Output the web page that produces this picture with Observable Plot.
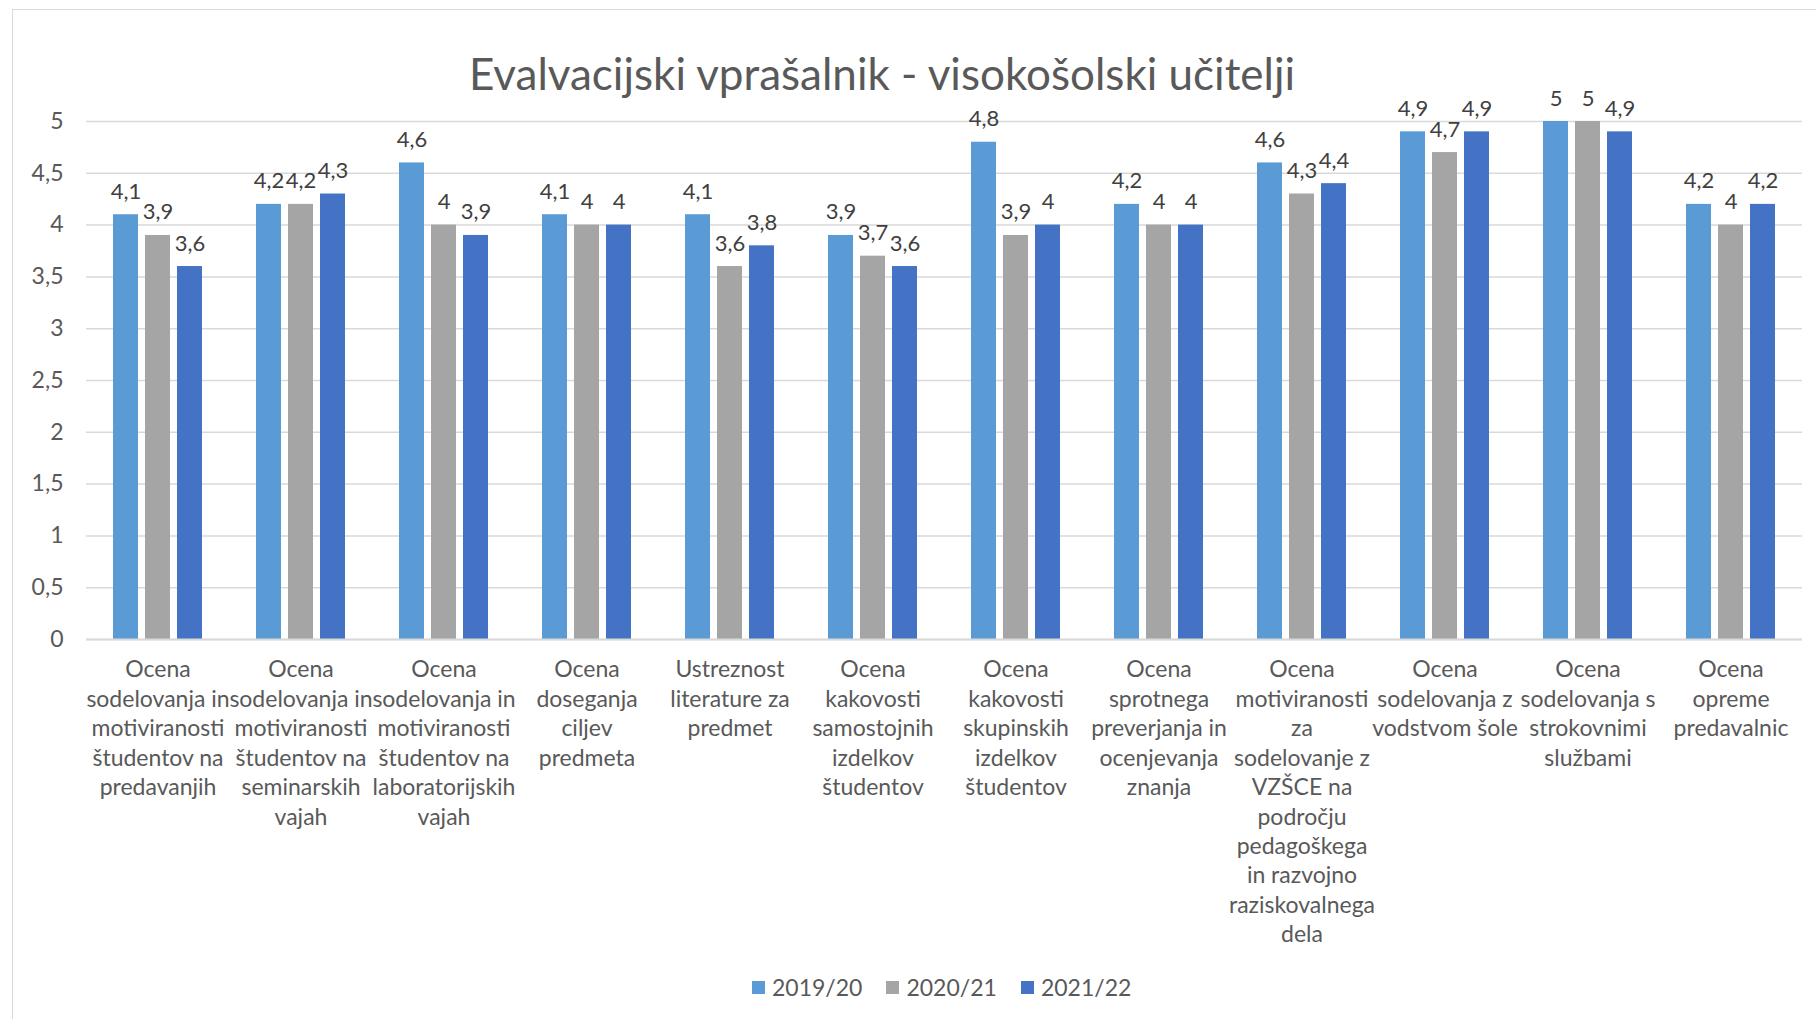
<!DOCTYPE html>
<html><head><meta charset="utf-8">
<script src="https://cdn.jsdelivr.net/npm/d3@7"></script>
<script src="https://cdn.jsdelivr.net/npm/@observablehq/plot@0.6"></script>
<style>
body{margin:0;background:#fff;}
#wrap{position:relative;width:1816px;height:1019px;overflow:hidden;font-family:Lato,'Open Sans',sans-serif;color:#595959;}
#frame{position:absolute;left:12px;top:9px;width:1900px;height:1100px;border:1.5px solid #d9d9d9;box-sizing:border-box;}
#chart{position:absolute;left:0;top:0;}
#title{position:absolute;top:51px;left:0;width:1764px;text-align:center;font-size:44px;line-height:1;white-space:nowrap;}
#legend{position:absolute;top:972px;left:752px;display:flex;align-items:center;font-size:23px;line-height:30px;}
#legend .item{display:flex;align-items:center;margin-right:24px;}
#legend .sw{width:13px;height:13px;margin-right:7px;}
</style></head>
<body>
<div id="wrap">
  <div id="frame"></div>
  <div id="chart"></div>
  <div id="title">Evalvacijski vprašalnik - visokošolski učitelji</div>
  <div id="legend"></div>
</div>
<script>
const categories = [
  "Ocena sodelovanja in motiviranosti študentov na predavanjih",
  "Ocena sodelovanja in motiviranosti študentov na seminarskih vajah",
  "Ocena sodelovanja in motiviranosti študentov na laboratorijskih vajah",
  "Ocena doseganja ciljev predmeta",
  "Ustreznost literature za predmet",
  "Ocena kakovosti samostojnih izdelkov študentov",
  "Ocena kakovosti skupinskih izdelkov študentov",
  "Ocena sprotnega preverjanja in ocenjevanja znanja",
  "Ocena motiviranosti za sodelovanje z VZŠCE na področju pedagoškega in razvojno raziskovalnega dela",
  "Ocena sodelovanja z vodstvom šole",
  "Ocena sodelovanja s strokovnimi službami",
  "Ocena opreme predavalnic"
];
const tickLabels = [
  "Ocena\nsodelovanja in\nmotiviranosti\nštudentov na\npredavanjih",
  "Ocena\nsodelovanja in\nmotiviranosti\nštudentov na\nseminarskih\nvajah",
  "Ocena\nsodelovanja in\nmotiviranosti\nštudentov na\nlaboratorijskih\nvajah",
  "Ocena\ndoseganja\nciljev\npredmeta",
  "Ustreznost\nliterature za\npredmet",
  "Ocena\nkakovosti\nsamostojnih\nizdelkov\nštudentov",
  "Ocena\nkakovosti\nskupinskih\nizdelkov\nštudentov",
  "Ocena\nsprotnega\npreverjanja in\nocenjevanja\nznanja",
  "Ocena\nmotiviranosti\nza\nsodelovanje z\nVZŠCE na\npodročju\npedagoškega\nin razvojno\nraziskovalnega\ndela",
  "Ocena\nsodelovanja z\nvodstvom šole",
  "Ocena\nsodelovanja s\nstrokovnimi\nslužbami",
  "Ocena\nopreme\npredavalnic"
];
const series = ["2019/20", "2020/21", "2021/22"];
const colors = ["#5B9BD5", "#A5A5A5", "#4472C4"];
const values2019 = [4.1, 4.2, 4.6, 4.1, 4.1, 3.9, 4.8, 4.2, 4.6, 4.9, 5.0, 4.2];
const values2020 = [3.9, 4.2, 4.0, 4.0, 3.6, 3.7, 3.9, 4.0, 4.3, 4.7, 5.0, 4.0];
const values2021 = [3.6, 4.3, 3.9, 4.0, 3.8, 3.6, 4.0, 4.0, 4.4, 4.9, 4.9, 4.2];
const yTicks = [0, 0.5, 1, 1.5, 2, 2.5, 3, 3.5, 4, 4.5, 5];

const seriesValues = [values2019, values2020, values2021];
const data = categories.flatMap((c, i) => seriesValues.map((vals, j) => ({category: c, series: series[j], value: vals[i]})));
const fmt = v => String(v).replace(".", ",");

const chart = Plot.plot({
  width: 1816, height: 960,
  marginTop: 121, marginBottom: 321, marginLeft: 81, marginRight: 10,
  fx: {domain: categories, padding: 0, label: null},
  x: {domain: series, paddingInner: 0.215, paddingOuter: 0.82, axis: null},
  y: {domain: [0, 5], label: null},
  color: {domain: series, range: colors},
  style: {fontFamily: "Lato, 'Open Sans', sans-serif", fontSize: "22px", color: "#595959", background: "transparent", overflow: "visible"},
  marks: [
    Plot.gridY(yTicks, {stroke: "#d9d9d9", strokeOpacity: 1, strokeWidth: 1.5}),
    Plot.axisY(yTicks, {tickSize: 0, tickPadding: 23, tickFormat: fmt, fontSize: 23, fill: "#595959", label: null}),
    Plot.barY(data, {fx: "category", x: "series", y: "value", fill: "series"}),
    Plot.ruleY([0], {stroke: "#d9d9d9", strokeWidth: 2}),
    Plot.text(data, {fx: "category", x: "series", y: "value", text: d => fmt(d.value), dy: -16, lineAnchor: "bottom", fill: "#404040", fontSize: 22}),
    Plot.axisFx({anchor: "bottom", tickSize: 0, tickPadding: 17, tickFormat: c => tickLabels[categories.indexOf(c)], fontSize: 23, lineHeight: 1.28, fill: "#595959", label: null})
  ]
});
document.getElementById("chart").appendChild(chart);

const legend = document.getElementById("legend");
series.forEach((s, i) => {
  const item = document.createElement("div");
  item.className = "item";
  item.innerHTML = `<span class="sw" style="background:${colors[i]}"></span><span>${s}</span>`;
  legend.appendChild(item);
});
</script>
</body></html>
